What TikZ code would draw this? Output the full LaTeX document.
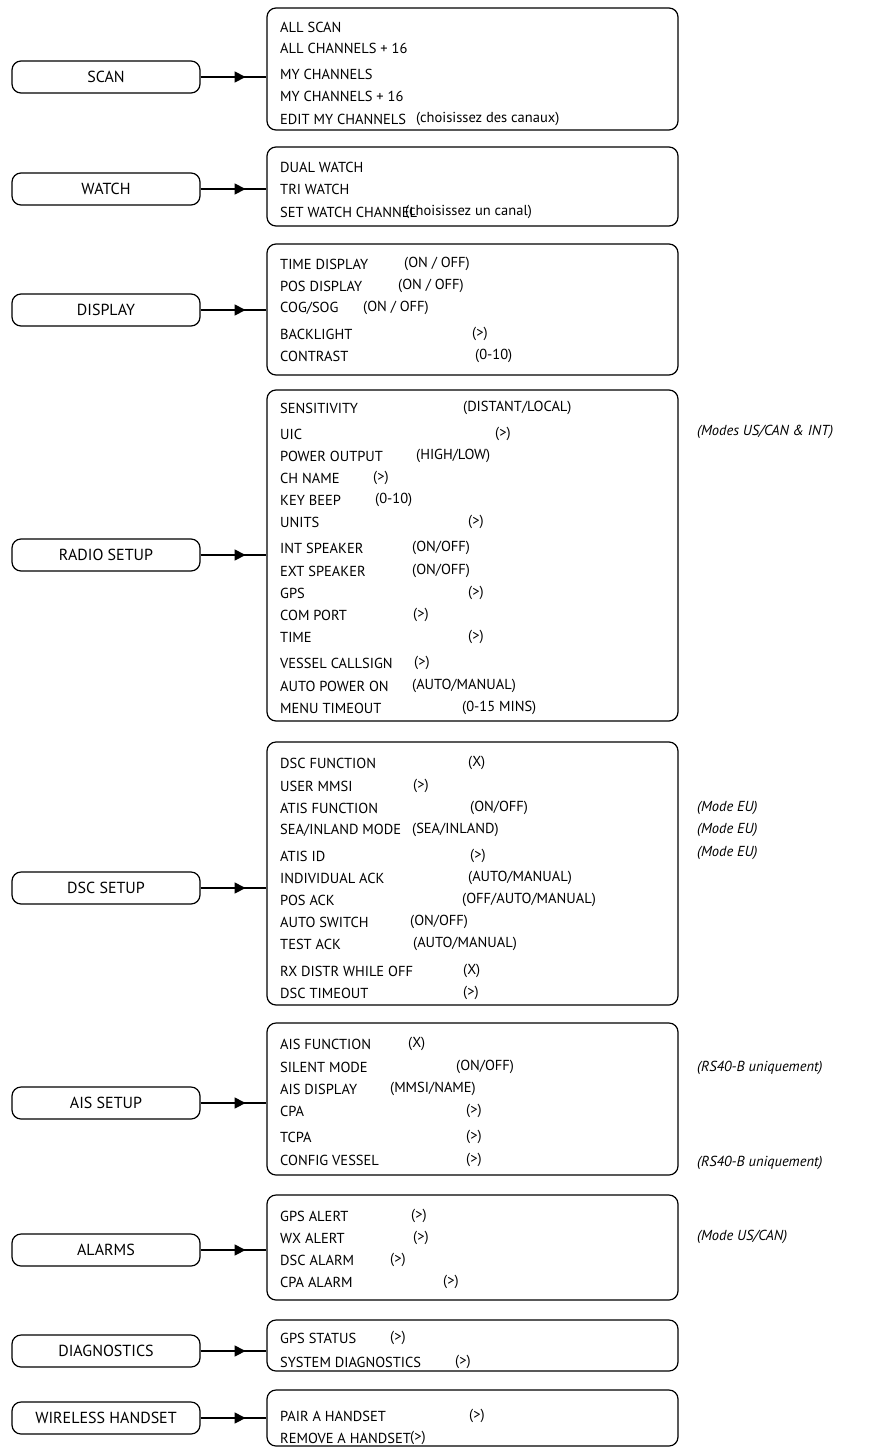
\documentclass[tikz,border=0pt]{standalone}
\usepackage{fontspec}
\setmainfont{PT Sans}
\usetikzlibrary{arrows.meta}
\begin{document}
\begin{tikzpicture}[x=1pt,y=-1pt,
  lbox/.style={draw,line width=1.2pt,rounded corners=9pt,minimum width=188pt,minimum height=32pt,inner sep=0pt,font=\fontsize{16}{18}\selectfont},
  rbox/.style={draw,line width=1.2pt,rounded corners=9pt,minimum width=411pt,inner sep=0pt},
  itm/.style={anchor=west,inner sep=0pt,font=\fontsize{14.5}{16}\selectfont},
  note/.style={anchor=west,inner sep=0pt,font=\fontsize{14.5}{16}\selectfont\itshape},
  conn/.style={line width=1.2pt},
  tip/.style={line width=1.2pt,-{Triangle[length=11pt,width=11pt]}}]
\useasboundingbox (0,0) rectangle (873,1456);
\newcommand\menu[6]{% name, label, leftcy, top, bottom, items
  \node[lbox] (l#1) at (106,#3) {#2};
  \node[rbox,minimum height={#5-#4}] (r#1) at (472.5,{(#4+#5)/2}) {};
  \draw[conn] (l#1.east) -- (r#1.west |- l#1.east);
  \draw[tip] (l#1.east) -- ++(45,0);
  \foreach \yy/\ta/\xb/\tb in {#6} {\node[itm] at (280,\yy) {\ta}; \node[itm] at (\xb,\yy) {\tb};}
}
\menu{a}{SCAN}{77}{8}{130}{27/{ALL SCAN}/400/{},48/{ALL CHANNELS + 16}/400/{},74/{MY CHANNELS}/400/{},96/{MY CHANNELS + 16}/400/{},119/{EDIT MY CHANNELS}/416/{(choisissez des canaux)}}
\menu{b}{WATCH}{189}{147}{226}{167/{DUAL WATCH}/400/{},189/{TRI WATCH}/400/{},212/{SET WATCH CHANNEL}/405/{(choisissez un canal)}}
\menu{c}{DISPLAY}{310}{244}{375}{264/{TIME DISPLAY}/404/{(ON / OFF)},286/{POS DISPLAY}/398/{(ON / OFF)},308/{COG/SOG}/363/{(ON / OFF)},334/{BACKLIGHT}/472/{(>)},356/{CONTRAST}/475/{(0-10)}}
\menu{d}{RADIO SETUP}{555}{390}{721}{408/{SENSITIVITY}/463/{(DISTANT/LOCAL)},434/{UIC}/495/{(>)},456/{POWER OUTPUT}/416/{(HIGH/LOW)},478/{CH NAME}/373/{(>)},500/{KEY BEEP}/375/{(0-10)},522/{UNITS}/468/{(>)},548/{INT SPEAKER}/412/{(ON/OFF)},571/{EXT SPEAKER}/412/{(ON/OFF)},593/{GPS}/468/{(>)},615/{COM PORT}/413/{(>)},637/{TIME}/468/{(>)},663/{VESSEL CALLSIGN}/414/{(>)},686/{AUTO POWER ON}/412/{(AUTO/MANUAL)},708/{MENU TIMEOUT}/462/{(0-15 MINS)}}
\menu{e}{DSC SETUP}{888}{742}{1005}{763/{DSC FUNCTION}/468/{(X)},786/{USER MMSI}/413/{(>)},808/{ATIS FUNCTION}/470/{(ON/OFF)},830/{SEA/INLAND MODE}/412/{(SEA/INLAND)},856/{ATIS ID}/470/{(>)},878/{INDIVIDUAL ACK}/468/{(AUTO/MANUAL)},900/{POS ACK}/462/{(OFF/AUTO/MANUAL)},922/{AUTO SWITCH}/410/{(ON/OFF)},944/{TEST ACK}/413/{(AUTO/MANUAL)},971/{RX DISTR WHILE OFF}/463/{(X)},993/{DSC TIMEOUT}/463/{(>)}}
\menu{f}{AIS SETUP}{1103}{1023}{1175}{1044/{AIS FUNCTION}/408/{(X)},1067/{SILENT MODE}/456/{(ON/OFF)},1089/{AIS DISPLAY}/390/{(MMSI/NAME)},1111/{CPA}/466/{(>)},1137/{TCPA}/466/{(>)},1160/{CONFIG VESSEL}/466/{(>)}}
\menu{g}{ALARMS}{1250}{1195}{1300}{1216/{GPS ALERT}/411/{(>)},1238/{WX ALERT}/413/{(>)},1260/{DSC ALARM}/390/{(>)},1282/{CPA ALARM}/443/{(>)}}
\menu{h}{DIAGNOSTICS}{1351}{1320}{1371}{1338/{GPS STATUS}/390/{(>)},1362/{SYSTEM DIAGNOSTICS}/455/{(>)}}
\menu{i}{WIRELESS HANDSET}{1418}{1390}{1446}{1416/{PAIR A HANDSET}/469/{(>)},1438/{REMOVE A HANDSET}/410/{(>)}}
\node[note] (n1) at (697,432) {(Modes US/CAN \& INT)};
\node[note] (n2) at (697,808) {(Mode EU)};
\node[note] (n3) at (697,830) {(Mode EU)};
\node[note] (n4) at (697,853) {(Mode EU)};
\node[note] (n5) at (697,1068) {(RS40-B uniquement)};
\node[note] (n6) at (697,1163) {(RS40-B uniquement)};
\node[note] (n7) at (697,1237) {(Mode US/CAN)};
\end{tikzpicture}
\end{document}
